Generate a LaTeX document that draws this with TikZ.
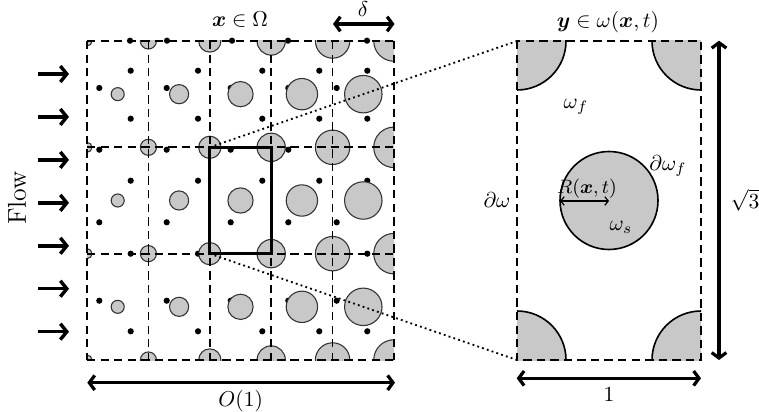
\documentclass[tikz,border=0pt]{standalone}
\usepackage{amsmath,bm}
\usetikzlibrary{arrows.meta}
\definecolor{grain}{RGB}{200,200,200}
\begin{document}
\begin{tikzpicture}[x=0.465pt,y=-0.465pt,
  grain/.style={fill=grain,draw=black!80,line width=0.5pt},
  celldash/.style={dash pattern=on 3.9pt off 2.4pt,line width=0.8pt},
  blackdot/.style={fill=black},
  dimarrow/.style={line width=1.5pt,{Straight Barb[length=2.5pt,width=6.8pt]}-{Straight Barb[length=2.5pt,width=6.8pt]}},
  flowarrow/.style={line width=1.6pt,-{Straight Barb[length=3pt,width=7.4pt]}},
  zoomline/.style={line width=0.85pt,dash pattern=on 0.85pt off 1.5pt},
  lbl/.style={inner sep=0pt}]
\useasboundingbox (0,0) rectangle (759,412);

% ---------- left grid: dots (under the grains) ----------
\foreach \xx in {130.7,198,262.3,319.3,367.3}
  \foreach \yy in {70.7,118.7,180.7,253.7,331.3}
    \fill[blackdot] (\xx,\yy) circle[radius=3.1];
\foreach \xx in {99.3,166.7,230.7,288.3,336.7}
  \foreach \yy in {88,149.7,222.3,300.7}
    \fill[blackdot] (\xx,\yy) circle[radius=3.1];
\foreach \xx in {130,167,232,288,367}
  \fill[blackdot] (\xx,40.7) circle[radius=3.1];

% ---------- left grid: grains ----------
\begin{scope}
  \clip (87,41) rectangle (394,360);
  \foreach \i in {0,...,5}
    \foreach \j in {0,...,3} {
      \pgfmathsetmacro\cx{87+61.4*\i}
      \pgfmathsetmacro\cy{41+106.33*\j}
      \pgfmathsetmacro\rr{5+0.0497*(\cx-87)}
      \path[grain] (\cx,\cy) circle[radius=\rr];
    }
  \foreach \i in {0,...,4}
    \foreach \j in {0,...,2} {
      \pgfmathsetmacro\cx{87+61.4*(\i+0.5)}
      \pgfmathsetmacro\cy{41+106.33*(\j+0.5)}
      \pgfmathsetmacro\rr{5+0.0497*(\cx-87)}
      \path[grain] (\cx,\cy) circle[radius=\rr];
    }
\end{scope}

% ---------- left grid: dashed cells ----------
\foreach \i in {0,...,5}
  \draw[celldash] ({87+61.4*\i},41) -- ({87+61.4*\i},360);
\foreach \j in {0,...,3}
  \draw[celldash] (87,{41+106.33*\j}) -- (394,{41+106.33*\j});

% ---------- zoomed cell ----------
\coordinate (bTL) at (209.8,147.3);
\coordinate (bBR) at (271.2,253.7);
\coordinate (bBL) at (209.8,253.7);
\coordinate (pTL) at (517,41);
\coordinate (pBR) at (701,360);
\coordinate (pBL) at (517,360);
\draw[line width=1.5pt] (bTL) rectangle (bBR);
\draw[zoomline] (bTL) -- (pTL);
\draw[zoomline] (bBL) -- (pBL);

% ---------- right panel ----------
\begin{scope}
  \clip (pTL) rectangle (pBR);
  \foreach \cx/\cy in {517/41,701/41,517/360,701/360}
    \path[grain,draw=black,line width=0.75pt] (\cx,\cy) circle[radius=49];
\end{scope}
\path[grain,draw=black,line width=0.75pt] (609,200.5) circle[radius=49];
\draw[celldash] (pTL) rectangle (pBR);
\coordinate (rL) at (560,201);
\coordinate (rC) at (609,201);
\draw[line width=0.55pt,{Straight Barb[length=1.6pt,width=4pt]}-{Straight Barb[length=1.6pt,width=4pt]}] (rL) -- (rC);
\node[lbl,font=\small] (rlab) at (587,189) {$R(\bm{x},t)$};
\node[lbl] (wf) at (576,107) {$\omega_f$};
\node[lbl] (dwf) at (668,166) {$\partial\omega_f$};
\node[lbl] (ws) at (621,227) {$\omega_s$};
\node[lbl] (dw) at (497,200) {$\partial\omega$};

% ---------- labels and dimension arrows ----------
\node[lbl,anchor=base] (xlab) at (240,26.5) {$\bm{x}\in\Omega$};
\node[lbl,anchor=base] (ylab) at (608,27.5) {$\bm{y}\in\omega(\bm{x},t)$};
\node[lbl] (dlab) at (363,9.5) {$\delta$};
\coordinate (dL) at (333,24);
\coordinate (dR) at (394.5,24);
\draw[dimarrow] (dL) -- (dR);
\coordinate (oL) at (87.3,382.7);
\coordinate (oR) at (395,382.7);
\draw[dimarrow] (oL) -- (oR);
\node[lbl] (olab) at (240.7,401) {$O(1)$};
\coordinate (hL) at (516.7,378.3);
\coordinate (hR) at (701,378.3);
\draw[dimarrow] (hL) -- (hR);
\node[lbl] (onelab) at (609,394.5) {$1$};
\coordinate (vT) at (719,40.7);
\coordinate (vB) at (719,360);
\draw[dimarrow] (vT) -- (vB);
\node[lbl] (s3lab) at (745,200) {$\sqrt{3}$};

% ---------- flow ----------
\node[lbl,rotate=90,font=\large] (flow) at (17,198) {Flow};
\foreach \k in {0,...,6} {
  \coordinate (fa\k) at (38,{74+42.95*\k});
  \coordinate (fb\k) at (69,{74+42.95*\k});
  \draw[flowarrow] (fa\k) -- (fb\k);
}
\end{tikzpicture}
\end{document}
